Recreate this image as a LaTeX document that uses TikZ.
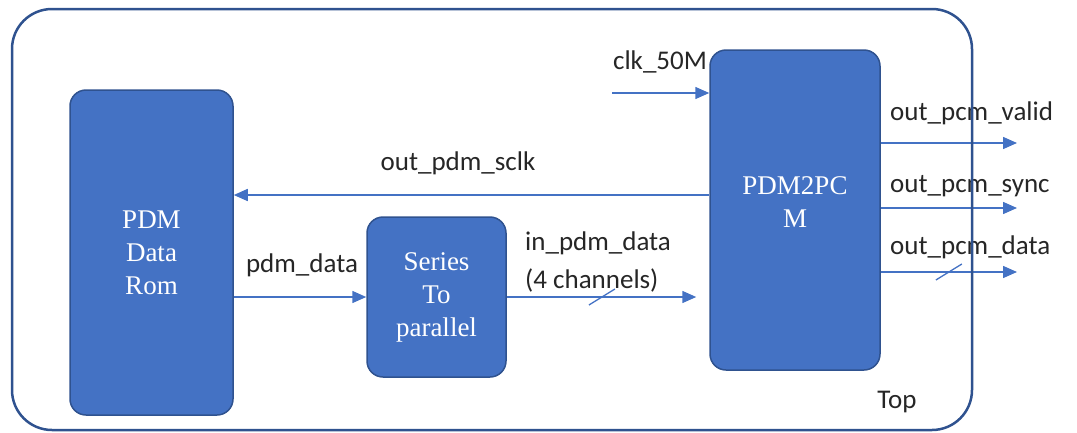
\documentclass[tikz,border=0pt]{standalone}
\usepackage{fontspec}
\setmainfont{Liberation Serif}
\setsansfont{Carlito}
\usetikzlibrary{arrows.meta}
\definecolor{blockblue}{HTML}{4472C4}
\definecolor{edgeblue}{HTML}{2F528F}
\definecolor{labelgray}{HTML}{262626}
\tikzset{
	blocktext/.style = {
		text=white,
		align=center,
		font=\fontsize{27}{33}\selectfont
	},
	block/.style = {
		draw=edgeblue,
		fill=blockblue,
		line width=1.5pt,
		rounded corners=16pt,
		blocktext
	},
	signal/.style = {
		text=labelgray,
		font=\sffamily\fontsize{27}{32}\selectfont,
		inner sep=0pt
	},
	frame/.style = {
		draw=edgeblue,
		line width=2.5pt,
		rounded corners=40pt
	},
	busmark/.style = {
		blockblue,
		line width=1.3pt
	}
}
\tikzstyle{arrow} = [-{Triangle[length=14pt,width=12pt]}, blockblue, line width=1.5pt]

\begin{document}
\begin{tikzpicture}[x=1pt,y=-1pt]
\useasboundingbox (0,0) rectangle (1077,432);
\node[block, minimum width=163pt, minimum height=325pt] (rom) at (151.5,252.5) {PDM\\Data\\Rom};
\node[block, minimum width=139pt, minimum height=160pt] (s2p) at (436.5,297) {Series\\To\\parallel};
\node[block, minimum width=170pt, minimum height=320pt,
	label={[blocktext, yshift=8pt]center:PDM2PC\\M}] (pdm2pcm) at (795,210) {};

\coordinate (sclk) at (0,195);
\coordinate (clkin) at (612,93);
\coordinate (validout) at (1017,143);
\coordinate (syncout) at (1017,208);
\coordinate (dataout) at (1017,272);

\draw[arrow] (pdm2pcm.west |- sclk) -- (rom.east |- sclk);
\draw[arrow] (rom.east |- s2p) -- (s2p.west);
\draw[arrow, shorten >=13pt] (s2p.east) -- coordinate[pos=0.47] (tickin) (pdm2pcm.west |- s2p);
\draw[arrow] (clkin) -- (pdm2pcm.west |- clkin);
\draw[arrow] (pdm2pcm.east |- validout) -- (validout);
\draw[arrow] (pdm2pcm.east |- syncout) -- (syncout);
\draw[arrow] (pdm2pcm.east |- dataout) -- coordinate[pos=0.5] (tickout) (dataout);
\draw[busmark] (tickin) ++(-13,8) -- ++(26,-16);
\draw[busmark] (tickout) ++(-13,8) -- ++(26,-16);

% signal names
\node[signal] (sclklbl) at (458,163) {out\_pdm\_sclk};
\node[signal] (datalbl) at (302,265) {pdm\_data};
\node[signal, anchor=west] (inlbl) at (525,243) {in\_pdm\_data};
\node[signal, anchor=west] (chlbl) at (525,280) {(4 channels)};
\node[signal] (clklbl) at (660,62) {clk\_50M};
\node[signal, anchor=west] (validlbl) at (890,113) {out\_pcm\_valid};
\node[signal, anchor=west] (synclbl) at (890,186) {out\_pcm\_sync};
\node[signal, anchor=west] (outlbl) at (890,247) {out\_pcm\_data};
\node[signal] (toplbl) at (897,402) {Top};

\draw[frame] (12,9) rectangle (972,430);
\end{tikzpicture}
\end{document}
